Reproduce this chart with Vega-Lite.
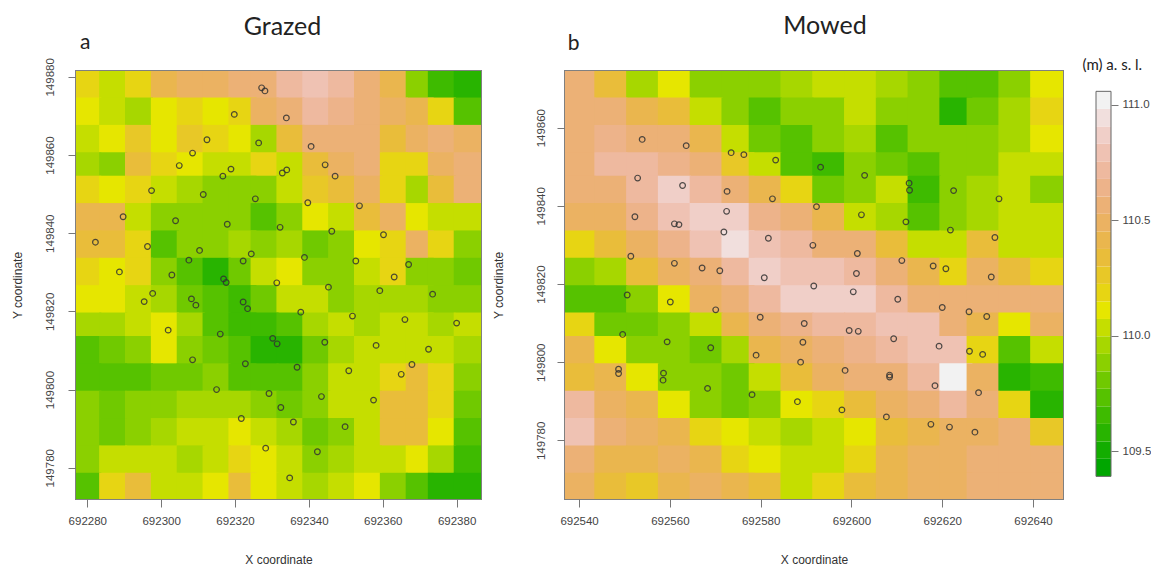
{"$schema":"https://vega.github.io/schema/vega-lite/v6.json","background":"white","padding":{"left":9,"top":12,"right":0,"bottom":0},
"config":{"view":{"stroke":"#808080","strokeWidth":2},"axis":{"grid":false,"domain":false,"labelFont":"Liberation Sans","titleFont":"Liberation Sans","labelFontSize":11.5,"titleFontSize":12,"titleFontWeight":"normal","labelColor":"#444","titleColor":"#333","tickColor":"#777","tickSize":8},"title":{"font":"Lato","fontSize":25,"fontWeight":"normal","color":"#222"}},
"datasets":{
"gridA":[
{"x":692280,"y":149878,"z":110.15},{"x":692287,"y":149878,"z":110.05},{"x":692294,"y":149878,"z":110.2},{"x":692301,"y":149878,"z":110.4},{"x":692308,"y":149878,"z":110.5},{"x":692315,"y":149878,"z":110.5},{"x":692322,"y":149878,"z":110.55},{"x":692328,"y":149878,"z":110.6},{"x":692335,"y":149878,"z":110.75},{"x":692342,"y":149878,"z":110.8},{"x":692349,"y":149878,"z":110.7},{"x":692356,"y":149878,"z":110.55},{"x":692363,"y":149878,"z":110.4},{"x":692370,"y":149878,"z":109.85},{"x":692376,"y":149878,"z":109.65},{"x":692383,"y":149878,"z":109.6},
{"x":692280,"y":149871,"z":110.1},{"x":692287,"y":149871,"z":110.0},{"x":692294,"y":149871,"z":109.95},{"x":692301,"y":149871,"z":110.1},{"x":692308,"y":149871,"z":110.2},{"x":692315,"y":149871,"z":110.1},{"x":692322,"y":149871,"z":110.2},{"x":692328,"y":149871,"z":110.5},{"x":692335,"y":149871,"z":110.6},{"x":692342,"y":149871,"z":110.7},{"x":692349,"y":149871,"z":110.65},{"x":692356,"y":149871,"z":110.55},{"x":692363,"y":149871,"z":110.5},{"x":692370,"y":149871,"z":110.45},{"x":692376,"y":149871,"z":110.2},{"x":692383,"y":149871,"z":109.75},
{"x":692280,"y":149864,"z":110.0},{"x":692287,"y":149864,"z":110.1},{"x":692294,"y":149864,"z":110.25},{"x":692301,"y":149864,"z":110.1},{"x":692308,"y":149864,"z":110.25},{"x":692315,"y":149864,"z":110.2},{"x":692322,"y":149864,"z":110.1},{"x":692328,"y":149864,"z":109.95},{"x":692335,"y":149864,"z":110.3},{"x":692342,"y":149864,"z":110.55},{"x":692349,"y":149864,"z":110.6},{"x":692356,"y":149864,"z":110.55},{"x":692363,"y":149864,"z":110.3},{"x":692370,"y":149864,"z":110.5},{"x":692376,"y":149864,"z":110.55},{"x":692383,"y":149864,"z":110.5},
{"x":692280,"y":149857,"z":109.95},{"x":692287,"y":149857,"z":109.9},{"x":692294,"y":149857,"z":110.3},{"x":692301,"y":149857,"z":110.2},{"x":692308,"y":149857,"z":110.1},{"x":692315,"y":149857,"z":110.05},{"x":692322,"y":149857,"z":110.05},{"x":692328,"y":149857,"z":110.15},{"x":692335,"y":149857,"z":110.0},{"x":692342,"y":149857,"z":110.35},{"x":692349,"y":149857,"z":110.5},{"x":692356,"y":149857,"z":110.55},{"x":692363,"y":149857,"z":110.15},{"x":692370,"y":149857,"z":110.2},{"x":692376,"y":149857,"z":110.5},{"x":692383,"y":149857,"z":110.55},
{"x":692280,"y":149851,"z":110.15},{"x":692287,"y":149851,"z":110.1},{"x":692294,"y":149851,"z":110.2},{"x":692301,"y":149851,"z":110.05},{"x":692308,"y":149851,"z":109.95},{"x":692315,"y":149851,"z":109.9},{"x":692322,"y":149851,"z":109.85},{"x":692328,"y":149851,"z":109.85},{"x":692335,"y":149851,"z":110.05},{"x":692342,"y":149851,"z":110.25},{"x":692349,"y":149851,"z":110.3},{"x":692356,"y":149851,"z":110.5},{"x":692363,"y":149851,"z":110.15},{"x":692370,"y":149851,"z":109.95},{"x":692376,"y":149851,"z":110.35},{"x":692383,"y":149851,"z":110.55},
{"x":692280,"y":149844,"z":110.4},{"x":692287,"y":149844,"z":110.4},{"x":692294,"y":149844,"z":110.05},{"x":692301,"y":149844,"z":109.9},{"x":692308,"y":149844,"z":109.9},{"x":692315,"y":149844,"z":109.85},{"x":692322,"y":149844,"z":109.85},{"x":692328,"y":149844,"z":109.75},{"x":692335,"y":149844,"z":109.9},{"x":692342,"y":149844,"z":110.1},{"x":692349,"y":149844,"z":110.05},{"x":692356,"y":149844,"z":110.3},{"x":692363,"y":149844,"z":110.5},{"x":692370,"y":149844,"z":110.1},{"x":692376,"y":149844,"z":110.0},{"x":692383,"y":149844,"z":110.05},
{"x":692280,"y":149837,"z":110.35},{"x":692287,"y":149837,"z":110.35},{"x":692294,"y":149837,"z":110.15},{"x":692301,"y":149837,"z":109.75},{"x":692308,"y":149837,"z":109.85},{"x":692315,"y":149837,"z":109.85},{"x":692322,"y":149837,"z":109.95},{"x":692328,"y":149837,"z":109.9},{"x":692335,"y":149837,"z":109.95},{"x":692342,"y":149837,"z":109.8},{"x":692349,"y":149837,"z":109.85},{"x":692356,"y":149837,"z":110.1},{"x":692363,"y":149837,"z":110.2},{"x":692370,"y":149837,"z":110.5},{"x":692376,"y":149837,"z":110.15},{"x":692383,"y":149837,"z":109.9},
{"x":692280,"y":149830,"z":110.15},{"x":692287,"y":149830,"z":110.1},{"x":692294,"y":149830,"z":110.2},{"x":692301,"y":149830,"z":109.9},{"x":692308,"y":149830,"z":109.75},{"x":692315,"y":149830,"z":109.6},{"x":692322,"y":149830,"z":109.8},{"x":692328,"y":149830,"z":110.05},{"x":692335,"y":149830,"z":110.1},{"x":692342,"y":149830,"z":109.85},{"x":692349,"y":149830,"z":109.85},{"x":692356,"y":149830,"z":110.05},{"x":692363,"y":149830,"z":110.15},{"x":692370,"y":149830,"z":109.85},{"x":692376,"y":149830,"z":109.85},{"x":692383,"y":149830,"z":109.8},
{"x":692280,"y":149823,"z":110.1},{"x":692287,"y":149823,"z":110.1},{"x":692294,"y":149823,"z":110.05},{"x":692301,"y":149823,"z":109.95},{"x":692308,"y":149823,"z":109.8},{"x":692315,"y":149823,"z":109.7},{"x":692322,"y":149823,"z":109.65},{"x":692328,"y":149823,"z":109.8},{"x":692335,"y":149823,"z":110.0},{"x":692342,"y":149823,"z":110.0},{"x":692349,"y":149823,"z":109.9},{"x":692356,"y":149823,"z":109.95},{"x":692363,"y":149823,"z":109.95},{"x":692370,"y":149823,"z":109.95},{"x":692376,"y":149823,"z":109.9},{"x":692383,"y":149823,"z":109.9},
{"x":692280,"y":149816,"z":109.95},{"x":692287,"y":149816,"z":109.95},{"x":692294,"y":149816,"z":110.05},{"x":692301,"y":149816,"z":110.1},{"x":692308,"y":149816,"z":109.95},{"x":692315,"y":149816,"z":109.75},{"x":692322,"y":149816,"z":109.65},{"x":692328,"y":149816,"z":109.65},{"x":692335,"y":149816,"z":109.7},{"x":692342,"y":149816,"z":109.95},{"x":692349,"y":149816,"z":110.0},{"x":692356,"y":149816,"z":109.95},{"x":692363,"y":149816,"z":110.0},{"x":692370,"y":149816,"z":110.0},{"x":692376,"y":149816,"z":109.95},{"x":692383,"y":149816,"z":110.0},
{"x":692280,"y":149810,"z":109.7},{"x":692287,"y":149810,"z":109.8},{"x":692294,"y":149810,"z":109.85},{"x":692301,"y":149810,"z":110.1},{"x":692308,"y":149810,"z":109.9},{"x":692315,"y":149810,"z":109.8},{"x":692322,"y":149810,"z":109.7},{"x":692328,"y":149810,"z":109.55},{"x":692335,"y":149810,"z":109.6},{"x":692342,"y":149810,"z":109.8},{"x":692349,"y":149810,"z":109.95},{"x":692356,"y":149810,"z":110.0},{"x":692363,"y":149810,"z":110.05},{"x":692370,"y":149810,"z":110.0},{"x":692376,"y":149810,"z":110.0},{"x":692383,"y":149810,"z":109.95},
{"x":692280,"y":149803,"z":109.75},{"x":692287,"y":149803,"z":109.7},{"x":692294,"y":149803,"z":109.75},{"x":692301,"y":149803,"z":109.8},{"x":692308,"y":149803,"z":109.8},{"x":692315,"y":149803,"z":109.85},{"x":692322,"y":149803,"z":109.75},{"x":692328,"y":149803,"z":109.7},{"x":692335,"y":149803,"z":109.75},{"x":692342,"y":149803,"z":109.85},{"x":692349,"y":149803,"z":110.0},{"x":692356,"y":149803,"z":110.0},{"x":692363,"y":149803,"z":110.2},{"x":692370,"y":149803,"z":110.35},{"x":692376,"y":149803,"z":110.15},{"x":692383,"y":149803,"z":109.9},
{"x":692280,"y":149796,"z":109.9},{"x":692287,"y":149796,"z":109.8},{"x":692294,"y":149796,"z":109.85},{"x":692301,"y":149796,"z":109.85},{"x":692308,"y":149796,"z":109.95},{"x":692315,"y":149796,"z":109.95},{"x":692322,"y":149796,"z":109.95},{"x":692328,"y":149796,"z":109.9},{"x":692335,"y":149796,"z":109.8},{"x":692342,"y":149796,"z":109.85},{"x":692349,"y":149796,"z":110.0},{"x":692356,"y":149796,"z":110.05},{"x":692363,"y":149796,"z":110.3},{"x":692370,"y":149796,"z":110.35},{"x":692376,"y":149796,"z":110.15},{"x":692383,"y":149796,"z":109.8},
{"x":692280,"y":149789,"z":109.9},{"x":692287,"y":149789,"z":109.8},{"x":692294,"y":149789,"z":109.9},{"x":692301,"y":149789,"z":109.95},{"x":692308,"y":149789,"z":110.0},{"x":692315,"y":149789,"z":110.05},{"x":692322,"y":149789,"z":110.1},{"x":692328,"y":149789,"z":110.0},{"x":692335,"y":149789,"z":109.95},{"x":692342,"y":149789,"z":109.8},{"x":692349,"y":149789,"z":109.9},{"x":692356,"y":149789,"z":110.0},{"x":692363,"y":149789,"z":110.3},{"x":692370,"y":149789,"z":110.35},{"x":692376,"y":149789,"z":110.1},{"x":692383,"y":149789,"z":109.75},
{"x":692280,"y":149782,"z":109.85},{"x":692287,"y":149782,"z":110.0},{"x":692294,"y":149782,"z":110.05},{"x":692301,"y":149782,"z":110.05},{"x":692308,"y":149782,"z":109.95},{"x":692315,"y":149782,"z":110.05},{"x":692322,"y":149782,"z":110.15},{"x":692328,"y":149782,"z":110.1},{"x":692335,"y":149782,"z":110.0},{"x":692342,"y":149782,"z":109.9},{"x":692349,"y":149782,"z":109.95},{"x":692356,"y":149782,"z":110.0},{"x":692363,"y":149782,"z":110.05},{"x":692370,"y":149782,"z":110.1},{"x":692376,"y":149782,"z":109.95},{"x":692383,"y":149782,"z":109.65},
{"x":692280,"y":149775,"z":109.7},{"x":692287,"y":149775,"z":110.2},{"x":692294,"y":149775,"z":110.3},{"x":692301,"y":149775,"z":110.05},{"x":692308,"y":149775,"z":110.0},{"x":692315,"y":149775,"z":110.1},{"x":692322,"y":149775,"z":110.3},{"x":692328,"y":149775,"z":110.1},{"x":692335,"y":149775,"z":110.0},{"x":692342,"y":149775,"z":109.95},{"x":692349,"y":149775,"z":110.0},{"x":692356,"y":149775,"z":110.1},{"x":692363,"y":149775,"z":109.9},{"x":692370,"y":149775,"z":109.75},{"x":692376,"y":149775,"z":109.6},{"x":692383,"y":149775,"z":109.55}
],
"gridB":[
{"x":692540,"y":149871,"z":110.55},{"x":692547,"y":149871,"z":110.3},{"x":692554,"y":149871,"z":109.95},{"x":692561,"y":149871,"z":110.1},{"x":692568,"y":149871,"z":109.85},{"x":692575,"y":149871,"z":109.85},{"x":692581,"y":149871,"z":109.85},{"x":692588,"y":149871,"z":109.95},{"x":692595,"y":149871,"z":110.0},{"x":692602,"y":149871,"z":110.0},{"x":692609,"y":149871,"z":109.95},{"x":692616,"y":149871,"z":109.9},{"x":692623,"y":149871,"z":109.75},{"x":692629,"y":149871,"z":109.75},{"x":692636,"y":149871,"z":109.9},{"x":692643,"y":149871,"z":110.1},
{"x":692540,"y":149864,"z":110.6},{"x":692547,"y":149864,"z":110.55},{"x":692554,"y":149864,"z":110.45},{"x":692561,"y":149864,"z":110.3},{"x":692568,"y":149864,"z":110.05},{"x":692575,"y":149864,"z":109.85},{"x":692581,"y":149864,"z":109.75},{"x":692588,"y":149864,"z":109.85},{"x":692595,"y":149864,"z":109.9},{"x":692602,"y":149864,"z":110.0},{"x":692609,"y":149864,"z":109.9},{"x":692616,"y":149864,"z":109.85},{"x":692623,"y":149864,"z":109.55},{"x":692629,"y":149864,"z":109.8},{"x":692636,"y":149864,"z":109.95},{"x":692643,"y":149864,"z":110.2},
{"x":692540,"y":149857,"z":110.6},{"x":692547,"y":149857,"z":110.65},{"x":692554,"y":149857,"z":110.6},{"x":692561,"y":149857,"z":110.55},{"x":692568,"y":149857,"z":110.4},{"x":692575,"y":149857,"z":110.05},{"x":692581,"y":149857,"z":109.8},{"x":692588,"y":149857,"z":109.75},{"x":692595,"y":149857,"z":109.85},{"x":692602,"y":149857,"z":109.95},{"x":692609,"y":149857,"z":109.75},{"x":692616,"y":149857,"z":109.9},{"x":692623,"y":149857,"z":109.85},{"x":692629,"y":149857,"z":109.85},{"x":692636,"y":149857,"z":109.95},{"x":692643,"y":149857,"z":110.1},
{"x":692540,"y":149850,"z":110.55},{"x":692547,"y":149850,"z":110.7},{"x":692554,"y":149850,"z":110.72},{"x":692561,"y":149850,"z":110.65},{"x":692568,"y":149850,"z":110.55},{"x":692575,"y":149850,"z":110.25},{"x":692581,"y":149850,"z":110.0},{"x":692588,"y":149850,"z":109.7},{"x":692595,"y":149850,"z":109.65},{"x":692602,"y":149850,"z":109.85},{"x":692609,"y":149850,"z":109.8},{"x":692616,"y":149850,"z":109.75},{"x":692623,"y":149850,"z":109.9},{"x":692629,"y":149850,"z":109.9},{"x":692636,"y":149850,"z":110.0},{"x":692643,"y":149850,"z":110.0},
{"x":692540,"y":149844,"z":110.55},{"x":692547,"y":149844,"z":110.6},{"x":692554,"y":149844,"z":110.72},{"x":692561,"y":149844,"z":110.85},{"x":692568,"y":149844,"z":110.75},{"x":692575,"y":149844,"z":110.6},{"x":692581,"y":149844,"z":110.45},{"x":692588,"y":149844,"z":110.2},{"x":692595,"y":149844,"z":109.8},{"x":692602,"y":149844,"z":109.85},{"x":692609,"y":149844,"z":110.0},{"x":692616,"y":149844,"z":109.65},{"x":692623,"y":149844,"z":109.85},{"x":692629,"y":149844,"z":109.95},{"x":692636,"y":149844,"z":110.0},{"x":692643,"y":149844,"z":109.9},
{"x":692540,"y":149837,"z":110.5},{"x":692547,"y":149837,"z":110.5},{"x":692554,"y":149837,"z":110.65},{"x":692561,"y":149837,"z":110.78},{"x":692568,"y":149837,"z":110.9},{"x":692575,"y":149837,"z":110.85},{"x":692581,"y":149837,"z":110.65},{"x":692588,"y":149837,"z":110.55},{"x":692595,"y":149837,"z":110.4},{"x":692602,"y":149837,"z":110.05},{"x":692609,"y":149837,"z":109.95},{"x":692616,"y":149837,"z":109.75},{"x":692623,"y":149837,"z":109.9},{"x":692629,"y":149837,"z":109.95},{"x":692636,"y":149837,"z":110.0},{"x":692643,"y":149837,"z":110.05},
{"x":692540,"y":149830,"z":110.15},{"x":692547,"y":149830,"z":110.3},{"x":692554,"y":149830,"z":110.5},{"x":692561,"y":149830,"z":110.65},{"x":692568,"y":149830,"z":110.78},{"x":692575,"y":149830,"z":110.92},{"x":692581,"y":149830,"z":110.8},{"x":692588,"y":149830,"z":110.7},{"x":692595,"y":149830,"z":110.6},{"x":692602,"y":149830,"z":110.55},{"x":692609,"y":149830,"z":110.3},{"x":692616,"y":149830,"z":110.0},{"x":692623,"y":149830,"z":110.0},{"x":692629,"y":149830,"z":110.3},{"x":692636,"y":149830,"z":110.05},{"x":692643,"y":149830,"z":110.0},
{"x":692540,"y":149823,"z":109.85},{"x":692547,"y":149823,"z":109.95},{"x":692554,"y":149823,"z":110.3},{"x":692561,"y":149823,"z":110.5},{"x":692568,"y":149823,"z":110.6},{"x":692575,"y":149823,"z":110.7},{"x":692581,"y":149823,"z":110.85},{"x":692588,"y":149823,"z":110.8},{"x":692595,"y":149823,"z":110.78},{"x":692602,"y":149823,"z":110.75},{"x":692609,"y":149823,"z":110.6},{"x":692616,"y":149823,"z":110.45},{"x":692623,"y":149823,"z":110.2},{"x":692629,"y":149823,"z":110.5},{"x":692636,"y":149823,"z":110.35},{"x":692643,"y":149823,"z":110.15},
{"x":692540,"y":149816,"z":109.75},{"x":692547,"y":149816,"z":109.75},{"x":692554,"y":149816,"z":109.85},{"x":692561,"y":149816,"z":110.1},{"x":692568,"y":149816,"z":110.5},{"x":692575,"y":149816,"z":110.6},{"x":692581,"y":149816,"z":110.7},{"x":692588,"y":149816,"z":110.85},{"x":692595,"y":149816,"z":110.85},{"x":692602,"y":149816,"z":110.85},{"x":692609,"y":149816,"z":110.75},{"x":692616,"y":149816,"z":110.6},{"x":692623,"y":149816,"z":110.55},{"x":692629,"y":149816,"z":110.55},{"x":692636,"y":149816,"z":110.58},{"x":692643,"y":149816,"z":110.55},
{"x":692540,"y":149809,"z":110.2},{"x":692547,"y":149809,"z":109.8},{"x":692554,"y":149809,"z":109.8},{"x":692561,"y":149809,"z":109.85},{"x":692568,"y":149809,"z":110.05},{"x":692575,"y":149809,"z":110.45},{"x":692581,"y":149809,"z":110.55},{"x":692588,"y":149809,"z":110.65},{"x":692595,"y":149809,"z":110.7},{"x":692602,"y":149809,"z":110.75},{"x":692609,"y":149809,"z":110.8},{"x":692616,"y":149809,"z":110.8},{"x":692623,"y":149809,"z":110.6},{"x":692629,"y":149809,"z":110.45},{"x":692636,"y":149809,"z":110.1},{"x":692643,"y":149809,"z":110.5},
{"x":692540,"y":149803,"z":110.4},{"x":692547,"y":149803,"z":110.1},{"x":692554,"y":149803,"z":109.85},{"x":692561,"y":149803,"z":109.85},{"x":692568,"y":149803,"z":109.8},{"x":692575,"y":149803,"z":109.95},{"x":692581,"y":149803,"z":110.4},{"x":692588,"y":149803,"z":110.5},{"x":692595,"y":149803,"z":110.55},{"x":692602,"y":149803,"z":110.62},{"x":692609,"y":149803,"z":110.7},{"x":692616,"y":149803,"z":110.78},{"x":692623,"y":149803,"z":110.8},{"x":692629,"y":149803,"z":110.2},{"x":692636,"y":149803,"z":109.75},{"x":692643,"y":149803,"z":110.0},
{"x":692540,"y":149796,"z":110.35},{"x":692547,"y":149796,"z":110.4},{"x":692554,"y":149796,"z":110.1},{"x":692561,"y":149796,"z":109.85},{"x":692568,"y":149796,"z":109.9},{"x":692575,"y":149796,"z":109.8},{"x":692581,"y":149796,"z":110.05},{"x":692588,"y":149796,"z":110.35},{"x":692595,"y":149796,"z":110.5},{"x":692602,"y":149796,"z":110.55},{"x":692609,"y":149796,"z":110.6},{"x":692616,"y":149796,"z":110.7},{"x":692623,"y":149796,"z":111.0},{"x":692629,"y":149796,"z":110.5},{"x":692636,"y":149796,"z":109.6},{"x":692643,"y":149796,"z":109.65},
{"x":692540,"y":149789,"z":110.75},{"x":692547,"y":149789,"z":110.5},{"x":692554,"y":149789,"z":110.4},{"x":692561,"y":149789,"z":110.1},{"x":692568,"y":149789,"z":109.85},{"x":692575,"y":149789,"z":109.8},{"x":692581,"y":149789,"z":109.9},{"x":692588,"y":149789,"z":110.1},{"x":692595,"y":149789,"z":110.2},{"x":692602,"y":149789,"z":110.35},{"x":692609,"y":149789,"z":110.5},{"x":692616,"y":149789,"z":110.55},{"x":692623,"y":149789,"z":110.75},{"x":692629,"y":149789,"z":110.55},{"x":692636,"y":149789,"z":110.15},{"x":692643,"y":149789,"z":109.6},
{"x":692540,"y":149782,"z":110.8},{"x":692547,"y":149782,"z":110.55},{"x":692554,"y":149782,"z":110.5},{"x":692561,"y":149782,"z":110.4},{"x":692568,"y":149782,"z":110.2},{"x":692575,"y":149782,"z":110.1},{"x":692581,"y":149782,"z":110.0},{"x":692588,"y":149782,"z":109.95},{"x":692595,"y":149782,"z":110.05},{"x":692602,"y":149782,"z":110.1},{"x":692609,"y":149782,"z":110.3},{"x":692616,"y":149782,"z":110.45},{"x":692623,"y":149782,"z":110.5},{"x":692629,"y":149782,"z":110.5},{"x":692636,"y":149782,"z":110.55},{"x":692643,"y":149782,"z":110.25},
{"x":692540,"y":149775,"z":110.55},{"x":692547,"y":149775,"z":110.45},{"x":692554,"y":149775,"z":110.4},{"x":692561,"y":149775,"z":110.5},{"x":692568,"y":149775,"z":110.45},{"x":692575,"y":149775,"z":110.15},{"x":692581,"y":149775,"z":110.12},{"x":692588,"y":149775,"z":110.0},{"x":692595,"y":149775,"z":110.0},{"x":692602,"y":149775,"z":110.15},{"x":692609,"y":149775,"z":110.4},{"x":692616,"y":149775,"z":110.5},{"x":692623,"y":149775,"z":110.5},{"x":692629,"y":149775,"z":110.55},{"x":692636,"y":149775,"z":110.55},{"x":692643,"y":149775,"z":110.55},
{"x":692540,"y":149768,"z":110.5},{"x":692547,"y":149768,"z":110.35},{"x":692554,"y":149768,"z":110.25},{"x":692561,"y":149768,"z":110.45},{"x":692568,"y":149768,"z":110.5},{"x":692575,"y":149768,"z":110.45},{"x":692581,"y":149768,"z":110.3},{"x":692588,"y":149768,"z":110.05},{"x":692595,"y":149768,"z":110.2},{"x":692602,"y":149768,"z":110.3},{"x":692609,"y":149768,"z":110.4},{"x":692616,"y":149768,"z":110.5},{"x":692623,"y":149768,"z":110.5},{"x":692629,"y":149768,"z":110.55},{"x":692636,"y":149768,"z":110.55},{"x":692643,"y":149768,"z":110.55}
],
"ptsA":[{"x":692327.2,"y":149877.2},{"x":692328.1,"y":149876.4},{"x":692319.8,"y":149870.4},{"x":692333.9,"y":149869.5},{"x":692340.6,"y":149862.2},{"x":692312.4,"y":149863.9},{"x":692326.4,"y":149863.1},{"x":692308.5,"y":149860.5},{"x":692304.9,"y":149857.3},{"x":692344.4,"y":149857.5},{"x":692347.1,"y":149854.6},{"x":692318.9,"y":149856.4},{"x":692316.7,"y":149854.6},{"x":692332.8,"y":149855.4},{"x":692334,"y":149856.2},{"x":692297.4,"y":149850.9},{"x":692311.4,"y":149849.9},{"x":692325.5,"y":149848.8},{"x":692339.7,"y":149847.8},{"x":692353.7,"y":149847},{"x":692289.7,"y":149844.2},{"x":692303.9,"y":149843.2},{"x":692317.9,"y":149842.3},{"x":692332.2,"y":149841.5},{"x":692346.2,"y":149840.5},{"x":692360.2,"y":149839.6},{"x":692282.2,"y":149837.7},{"x":692296.3,"y":149836.6},{"x":692310.4,"y":149835.6},{"x":692324.4,"y":149834.7},{"x":692307.5,"y":149833.1},{"x":692322.2,"y":149832.9},{"x":692338.8,"y":149833.8},{"x":692352.7,"y":149832.9},{"x":692367,"y":149832},{"x":692288.7,"y":149830.1},{"x":692302.9,"y":149829.3},{"x":692316.9,"y":149828.3},{"x":692317.6,"y":149827.4},{"x":692331.3,"y":149827.3},{"x":692363.1,"y":149828.8},{"x":692345.3,"y":149826.2},{"x":692359.2,"y":149825.3},{"x":692297.7,"y":149824.6},{"x":692295.4,"y":149822.5},{"x":692308.2,"y":149823.2},{"x":692309.4,"y":149821.6},{"x":692322.2,"y":149822.4},{"x":692323.4,"y":149820.7},{"x":692337.8,"y":149819.8},{"x":692351.8,"y":149818.8},{"x":692373.5,"y":149824.4},{"x":692366,"y":149817.9},{"x":692380,"y":149817},{"x":692301.9,"y":149815.2},{"x":692316,"y":149814.2},{"x":692330.2,"y":149813.1},{"x":692331.4,"y":149811.7},{"x":692344.3,"y":149812.1},{"x":692358.2,"y":149811.3},{"x":692372.4,"y":149810.3},{"x":692308.5,"y":149807.6},{"x":692322.8,"y":149806.6},{"x":692336.8,"y":149805.7},{"x":692350.8,"y":149804.8},{"x":692367.9,"y":149806.4},{"x":692365,"y":149803.9},{"x":692315,"y":149800},{"x":692329.2,"y":149799},{"x":692343.4,"y":149798.2},{"x":692357.5,"y":149797.3},{"x":692332.4,"y":149795.4},{"x":692321.7,"y":149792.6},{"x":692335.8,"y":149791.7},{"x":692349.8,"y":149790.5},{"x":692328.3,"y":149785},{"x":692342.3,"y":149784.1},{"x":692334.8,"y":149777.4}],
"ptsB":[{"x":692553.9,"y":149857},{"x":692563.6,"y":149855.4},{"x":692573.5,"y":149853.6},{"x":692576.3,"y":149853.1},{"x":692583.3,"y":149851.7},{"x":692593.2,"y":149849.9},{"x":692602.9,"y":149847.8},{"x":692552.9,"y":149847.1},{"x":692562.8,"y":149845.2},{"x":692572.6,"y":149843.7},{"x":692582.6,"y":149841.8},{"x":692592.3,"y":149839.8},{"x":692612.7,"y":149845.8},{"x":692612.8,"y":149844},{"x":692622.5,"y":149843.9},{"x":692632.5,"y":149841.8},{"x":692602.2,"y":149837.7},{"x":692552.3,"y":149837.2},{"x":692561,"y":149835.4},{"x":692562,"y":149835.2},{"x":692572.5,"y":149838.6},{"x":692571.9,"y":149833.3},{"x":692612,"y":149835.9},{"x":692621.8,"y":149833.8},{"x":692631.6,"y":149831.9},{"x":692581.7,"y":149831.7},{"x":692591.5,"y":149829.9},{"x":692601.3,"y":149827.8},{"x":692551.4,"y":149827.1},{"x":692561,"y":149825.3},{"x":692567.1,"y":149824.1},{"x":692571,"y":149823.4},{"x":692611.1,"y":149826},{"x":692618,"y":149824.6},{"x":692620.8,"y":149823.9},{"x":692630.8,"y":149821.8},{"x":692580.8,"y":149821.6},{"x":692601.1,"y":149822.7},{"x":692591.7,"y":149819.5},{"x":692600.4,"y":149818},{"x":692550.6,"y":149817.2},{"x":692560.1,"y":149815.4},{"x":692570.1,"y":149813.4},{"x":692610.2,"y":149816.1},{"x":692620,"y":149814},{"x":692625.9,"y":149812.9},{"x":692629.8,"y":149811.7},{"x":692579.9,"y":149811.5},{"x":692589.6,"y":149809.9},{"x":692599.5,"y":149808.1},{"x":692601.5,"y":149807.9},{"x":692549.6,"y":149807.1},{"x":692559.4,"y":149805.2},{"x":692569,"y":149803.7},{"x":692589.3,"y":149805.1},{"x":692609.3,"y":149806},{"x":692619.3,"y":149804.1},{"x":692626,"y":149802.8},{"x":692628.9,"y":149802},{"x":692579,"y":149801.8},{"x":692588.8,"y":149800},{"x":692598.6,"y":149797.9},{"x":692548.7,"y":149798.2},{"x":692548.7,"y":149797.1},{"x":692558.6,"y":149797.2},{"x":692558.5,"y":149795.4},{"x":692608.4,"y":149796.7},{"x":692608.4,"y":149796.2},{"x":692618.4,"y":149794},{"x":692628,"y":149792.2},{"x":692568.3,"y":149793.3},{"x":692578.1,"y":149791.7},{"x":692588.1,"y":149789.9},{"x":692597.9,"y":149787.8},{"x":692607.7,"y":149786},{"x":692617.5,"y":149784.1},{"x":692621.6,"y":149783.4},{"x":692627.2,"y":149782.1}],
"bands":[{"lo":109.392,"hi":109.468,"z":109.43},{"lo":109.468,"hi":109.543,"z":109.505},{"lo":109.543,"hi":109.619,"z":109.58},{"lo":109.619,"hi":109.695,"z":109.655},{"lo":109.695,"hi":109.771,"z":109.73},{"lo":109.771,"hi":109.846,"z":109.81},{"lo":109.846,"hi":109.922,"z":109.885},{"lo":109.922,"hi":109.998,"z":109.96},{"lo":109.998,"hi":110.073,"z":110.035},{"lo":110.073,"hi":110.149,"z":110.11},{"lo":110.149,"hi":110.225,"z":110.185},{"lo":110.225,"hi":110.3,"z":110.26},{"lo":110.3,"hi":110.376,"z":110.34},{"lo":110.376,"hi":110.452,"z":110.415},{"lo":110.452,"hi":110.528,"z":110.49},{"lo":110.528,"hi":110.603,"z":110.565},{"lo":110.603,"hi":110.679,"z":110.64},{"lo":110.679,"hi":110.755,"z":110.715},{"lo":110.755,"hi":110.831,"z":110.79},{"lo":110.831,"hi":110.906,"z":110.87},{"lo":110.906,"hi":110.982,"z":110.945},{"lo":110.982,"hi":111.058,"z":111.02}]
},
"hconcat":[
{"hconcat":[
{"width":405,"height":428,"title":{"text":"Grazed","offset":-8,"dx":4},
"layer":[
{"data":{"name":"gridA"},"mark":{"type":"rect","width":28,"height":29,"clip":true},"encoding":{"x":{"field":"x","type":"quantitative","scale":{"domain":[692276.94,692386.6],"nice":false,"zero":false},"axis":{"values":[692280,692300,692320,692340,692360,692380],"format":"d","title":"X coordinate","labelPadding":8,"titlePadding":28}},"y":{"field":"y","type":"quantitative","scale":{"domain":[149772,149881.5],"nice":false,"zero":false},"axis":{"values":[149780,149800,149820,149840,149860,149880],"format":"d","title":"Y coordinate","labelAngle":-90,"labelAlign":"center","labelBaseline":"bottom","labelPadding":13,"titlePadding":20}},"color":{"field":"z","type":"quantitative","legend":null,"scale":{"type":"threshold","domain":[109.468,109.543,109.619,109.695,109.771,109.846,109.922,109.998,110.073,110.149,110.225,110.3,110.376,110.452,110.528,110.603,110.679,110.755,110.831,110.906,110.982],"range":["#00A600","#13AD00","#28B400","#3EBB00","#56C200","#70C900","#8BD000","#A7D700","#C5DE00","#E6E600","#E7D513","#E8C827","#E9BD3A","#EAB64E","#EBB262","#ECB176","#EDB38A","#EEB99F","#EFC2B3","#F0CFC8","#F1DFDD","#F2F2F2"]}}}},
{"data":{"name":"ptsA"},"mark":{"type":"point","shape":"circle","size":32,"filled":false,"stroke":"#333","strokeWidth":1.2,"opacity":0.85},"encoding":{"x":{"field":"x","type":"quantitative"},"y":{"field":"y","type":"quantitative"}}},
{"data":{"values":[{"x":692278,"y":149888.7,"t":"a"}]},"mark":{"type":"text","font":"Lato","fontSize":21,"align":"left","baseline":"middle","color":"#222"},"encoding":{"x":{"field":"x","type":"quantitative"},"y":{"field":"y","type":"quantitative"},"text":{"field":"t"}}}
]},
{"width":498,"height":428,"title":{"text":"Mowed","offset":-6,"dx":11},
"layer":[
{"data":{"name":"gridB"},"mark":{"type":"rect","width":33,"height":29,"clip":true},"encoding":{"x":{"field":"x","type":"quantitative","scale":{"domain":[692536.9,692646.6],"nice":false,"zero":false},"axis":{"values":[692540,692560,692580,692600,692620,692640],"format":"d","title":"X coordinate","labelPadding":8,"titlePadding":28}},"y":{"field":"y","type":"quantitative","scale":{"domain":[149765,149874.5],"nice":false,"zero":false},"axis":{"values":[149780,149800,149820,149840,149860],"format":"d","title":"Y coordinate","labelAngle":-90,"labelAlign":"center","labelBaseline":"bottom","labelPadding":11,"titlePadding":30}},"color":{"field":"z","type":"quantitative","legend":null,"scale":{"type":"threshold","domain":[109.468,109.543,109.619,109.695,109.771,109.846,109.922,109.998,110.073,110.149,110.225,110.3,110.376,110.452,110.528,110.603,110.679,110.755,110.831,110.906,110.982],"range":["#00A600","#13AD00","#28B400","#3EBB00","#56C200","#70C900","#8BD000","#A7D700","#C5DE00","#E6E600","#E7D513","#E8C827","#E9BD3A","#EAB64E","#EBB262","#ECB176","#EDB38A","#EEB99F","#EFC2B3","#F0CFC8","#F1DFDD","#F2F2F2"]}}}},
{"data":{"name":"ptsB"},"mark":{"type":"point","shape":"circle","size":32,"filled":false,"stroke":"#333","strokeWidth":1.2,"opacity":0.85},"encoding":{"x":{"field":"x","type":"quantitative"},"y":{"field":"y","type":"quantitative"}}},
{"data":{"values":[{"x":692537.5,"y":149881.5,"t":"b"}]},"mark":{"type":"text","font":"Lato","fontSize":21,"align":"left","baseline":"middle","color":"#222"},"encoding":{"x":{"field":"x","type":"quantitative"},"y":{"field":"y","type":"quantitative"},"text":{"field":"t"}}}
]}
],"spacing":84,"bounds":"flush"},
{"width":15,"height":428,"view":{"stroke":null},"title":{"text":"(m) a. s. l.","fontSize":15,"anchor":"start","dx":-13,"offset":-2},
"layer":[
{"data":{"name":"bands"},"mark":{"type":"rect"},"encoding":{"y":{"field":"lo","type":"quantitative","scale":{"domain":[109.294,111.146],"nice":false,"zero":false},"axis":{"orient":"right","values":[109.5,110,110.5,111],"format":".1f","title":null,"tickSize":7,"labelPadding":4}},"y2":{"field":"hi"},"color":{"field":"z","type":"quantitative","legend":null,"scale":{"type":"threshold","domain":[109.468,109.543,109.619,109.695,109.771,109.846,109.922,109.998,110.073,110.149,110.225,110.3,110.376,110.452,110.528,110.603,110.679,110.755,110.831,110.906,110.982],"range":["#00A600","#13AD00","#28B400","#3EBB00","#56C200","#70C900","#8BD000","#A7D700","#C5DE00","#E6E600","#E7D513","#E8C827","#E9BD3A","#EAB64E","#EBB262","#ECB176","#EDB38A","#EEB99F","#EFC2B3","#F0CFC8","#F1DFDD","#F2F2F2"]}}}},
{"data":{"values":[{"lo":109.392,"hi":111.058}]},"mark":{"type":"rect","fill":null,"stroke":"#666","strokeWidth":1},"encoding":{"y":{"field":"lo","type":"quantitative"},"y2":{"field":"hi"}}}
]}
],"spacing":18}
